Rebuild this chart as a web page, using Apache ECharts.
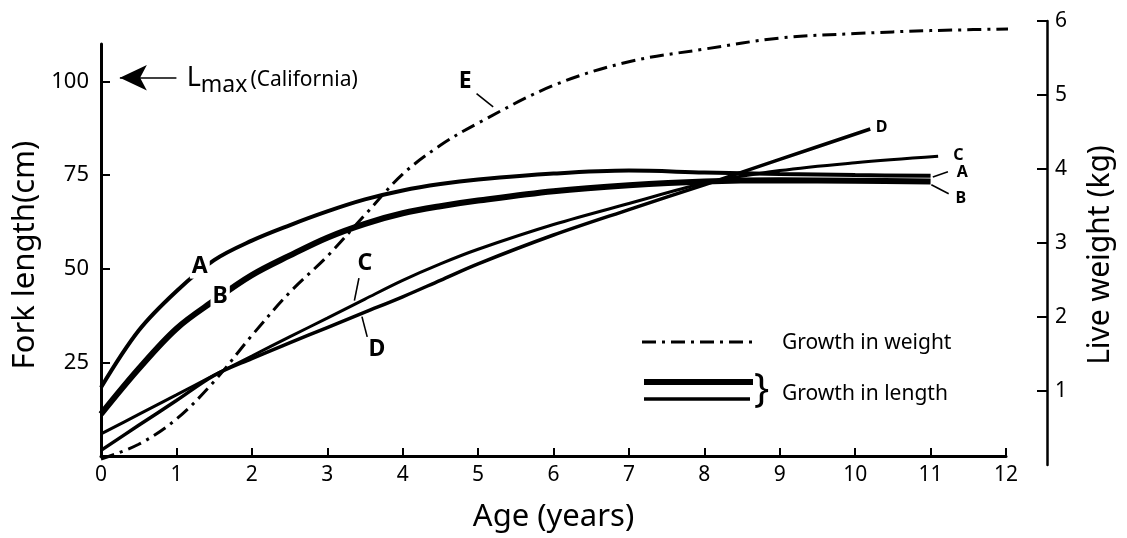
<!DOCTYPE html>
<html><head><meta charset="utf-8">
<script src="https://cdn.jsdelivr.net/npm/echarts@6/dist/echarts.min.js"></script>
<style>html,body{margin:0;padding:0;background:#fff}#c{width:1127px;height:538px}</style>
</head><body><div id="c"></div>
<script>
// Age (years) and fork length (cm)
const agesA = [0, 0.5, 1, 1.5, 2, 2.5, 3, 3.5, 4, 4.5, 5, 6, 7, 8, 9, 10, 11];
const lengthA = [18.3, 33.5, 44, 52.3, 57.5, 61.6, 65.3, 68.5, 70.9, 72.6, 73.8, 75.4, 76.2, 75.7, 75.3, 75.0, 74.8];
const agesB = [0, 0.5, 1, 1.5, 2, 2.5, 3, 3.5, 4, 4.5, 5, 6, 7, 8, 9, 10, 11];
const lengthB = [11.2, 23.3, 34, 41.5, 48.3, 53.5, 58.3, 62, 64.8, 66.7, 68.2, 70.7, 72.3, 73.3, 73.6, 73.5, 73.3];
const agesC = [0, 0.5, 1, 1.5, 2, 2.5, 3, 3.5, 4, 4.5, 5, 6, 7, 8, 9, 10, 11.1];
const lengthC = [5.9, 11.1, 16.3, 21.6, 26.7, 31.8, 36.8, 41.9, 46.9, 51.3, 55.2, 61.8, 67.4, 72.8, 76.2, 78.3, 80];
const agesD = [0, 0.5, 1, 1.5, 2, 2.5, 3, 3.5, 4, 4.5, 5, 6, 7, 8, 9, 10.2];
const lengthD = [1.5, 8.2, 14.8, 21.5, 26, 30.2, 34.3, 38.4, 42.5, 46.9, 51.3, 59, 65.8, 72.4, 79.2, 87.3];
// Live weight (kg)
const agesE = [0, 0.5, 1, 1.5, 2, 2.5, 3, 3.5, 4, 4.5, 5, 6, 7, 8, 9, 10, 11, 12.45];
const weightE = [0.08, 0.28, 0.62, 1.13, 1.75, 2.33, 2.82, 3.38, 3.93, 4.32, 4.62, 5.13, 5.45, 5.62, 5.77, 5.83, 5.87, 5.9];
// ticks
const xTicks = [0,1,2,3,4,5,6,7,8,9,10,11,12];
const lengthTicks = [25, 50, 75, 100];
const weightTicks = [0,1,2,3,4,5,6];
const lmax = 101;

const F = '"Noto Sans", "DejaVu Sans", sans-serif';
const K = '#000';
const zip = (a, b) => a.map((v, i) => [v, b[i]]);

function lbl(text, coord, size, bg) {
  return {
    coord: coord, symbol: 'circle', symbolSize: 1, itemStyle: {color: 'rgba(0,0,0,0)'},
    label: {show: true, position: 'inside', formatter: text, color: K, fontFamily: F,
      fontWeight: 'bold', fontSize: size, backgroundColor: bg ? '#fff' : 'transparent', padding: bg ? [1, 2] : 0}
  };
}
function leader(p, q) { return [{coord: p}, {coord: q}]; }
const mlBase = {symbol: ['none', 'none'], silent: true, animation: false,
  lineStyle: {color: K, width: 1.6, type: 'solid'}, label: {show: false}, emphasis: {disabled: true}};
const mpBase = {silent: true, animation: false, z: 10};
const SM = 0.35;

const chart = echarts.init(document.getElementById('c'));
chart.setOption({
  animation: false,
  backgroundColor: '#fff',
  grid: [
    {left: 101, right: 121, top: 44, bottom: 79},
    {left: 101, right: 121, top: 21, bottom: 73}
  ],
  xAxis: [
    {gridIndex: 0, type: 'value', min: 0, max: 12, interval: 1,
      axisLine: {show: true, onZero: false, lineStyle: {color: K, width: 3}},
      axisTick: {show: true, inside: true, length: 8, lineStyle: {color: K, width: 2}},
      axisLabel: {color: K, fontSize: 21, fontFamily: F, margin: 9},
      splitLine: {show: false},
      name: 'Age (years)', nameLocation: 'middle', nameGap: 46,
      nameTextStyle: {color: K, fontSize: 31, fontFamily: F}},
    {gridIndex: 1, type: 'value', min: 0, max: 12, show: false}
  ],
  yAxis: [
    {gridIndex: 0, type: 'value', min: 0, max: 110, interval: 25,
      axisLine: {show: true, onZero: false, lineStyle: {color: K, width: 3}},
      axisTick: {show: true, inside: true, length: 9, customValues: lengthTicks, lineStyle: {color: K, width: 2}},
      axisLabel: {color: K, fontSize: 22, fontFamily: F, margin: 12, customValues: lengthTicks},
      splitLine: {show: false},
      name: 'Fork length(cm)', nameLocation: 'middle', nameGap: 54, nameRotate: 90,
      nameTextStyle: {color: K, fontSize: 31, fontFamily: F, padding: [0, 10, 0, 0]}},
    {gridIndex: 1, type: 'value', min: 0, max: 6, interval: 1, position: 'right', offset: 41,
      axisLine: {show: true, onZero: false, lineStyle: {color: K, width: 2.5}},
      axisTick: {show: true, inside: true, length: 10, lineStyle: {color: K, width: 2}},
      axisLabel: {color: K, fontSize: 21, fontFamily: F, margin: 8, showMinLabel: false},
      splitLine: {show: false},
      name: 'Live weight (kg)', nameLocation: 'middle', nameGap: 38, nameRotate: 90,
      nameTextStyle: {color: K, fontSize: 30, fontFamily: F, padding: [0, 24, 0, 0]}}
  ],
  series: [
    {name: 'A', type: 'line', xAxisIndex: 0, yAxisIndex: 0, data: zip(agesA, lengthA),
      showSymbol: false, smooth: SM, lineStyle: {color: K, width: 4}, z: 3,
      markPoint: Object.assign({}, mpBase, {data: [
        lbl('A', [1.31, 50.7], 23, true),
        lbl('A', [11.42, 75.8], 16, false),
        {coord: [1.13, lmax], symbol: 'circle', symbolSize: 1, itemStyle: {color: 'rgba(0,0,0,0)'},
          label: {show: true, position: 'right', distance: 0, offset: [0, 3], formatter: '{L|L}{m|max}{c|(California)}',
            rich: {
              L: {fontSize: 27, fontFamily: F, color: K, verticalAlign: 'bottom', padding: [0, 0, 5, 0]},
              m: {fontSize: 23, fontFamily: F, color: K, verticalAlign: 'bottom', padding: [0, 3, 0, 0]},
              c: {fontSize: 21, fontFamily: F, color: K, verticalAlign: 'bottom', padding: [0, 0, 6, 0]}
            }}}
      ]}),
      markLine: Object.assign({}, mlBase, {data: [
        leader([11.03, 74.5], [11.23, 75.9]),
        [{coord: [1.0, lmax], symbol: 'none'}, {coord: [0.25, lmax], symbol: 'arrow', symbolSize: [19, 27]}]
      ]})},
    {name: 'B', type: 'line', xAxisIndex: 0, yAxisIndex: 0, data: zip(agesB, lengthB),
      showSymbol: false, smooth: SM, lineStyle: {color: K, width: 6}, z: 3,
      markPoint: Object.assign({}, mpBase, {data: [
        lbl('B', [1.58, 42.6], 23, true),
        lbl('B', [11.4, 68.9], 16, false)
      ]}),
      markLine: Object.assign({}, mlBase, {data: [leader([11.01, 72.4], [11.24, 70.0])]})},
    {name: 'C', type: 'line', xAxisIndex: 0, yAxisIndex: 0, data: zip(agesC, lengthC),
      showSymbol: false, smooth: SM, lineStyle: {color: K, width: 3}, z: 3,
      markPoint: Object.assign({}, mpBase, {data: [
        lbl('C', [3.5, 51.5], 23, false),
        lbl('C', [11.37, 80.2], 16, false)
      ]}),
      markLine: Object.assign({}, mlBase, {data: [leader([3.42, 47.5], [3.36, 41.5])]})},
    {name: 'D', type: 'line', xAxisIndex: 0, yAxisIndex: 0, data: zip(agesD, lengthD),
      showSymbol: false, smooth: SM, lineStyle: {color: K, width: 3.5}, z: 3,
      markPoint: Object.assign({}, mpBase, {data: [
        lbl('D', [3.66, 28.5], 23, false),
        lbl('D', [10.35, 87.7], 16, false)
      ]}),
      markLine: Object.assign({}, mlBase, {data: [leader([3.53, 31.8], [3.46, 37.2])]})},
    {name: 'E', type: 'line', xAxisIndex: 1, yAxisIndex: 1, data: zip(agesE, weightE), clip: false,
      showSymbol: false, smooth: SM, lineStyle: {color: K, width: 3, type: [14, 6, 3, 6]}, z: 3,
      markPoint: Object.assign({}, mpBase, {data: [lbl('E', [4.83, 5.18], 23, false)]}),
      markLine: Object.assign({}, mlBase, {data: [leader([4.98, 5.02], [5.2, 4.84])]})}
  ],
  graphic: [
    {type: 'line', shape: {x1: 642, y1: 342, x2: 753, y2: 342}, style: {stroke: K, lineWidth: 3, lineDash: [14, 6, 3, 6]}},
    {type: 'line', shape: {x1: 644, y1: 382, x2: 753, y2: 382}, style: {stroke: K, lineWidth: 6}},
    {type: 'line', shape: {x1: 644, y1: 399, x2: 750, y2: 399}, style: {stroke: K, lineWidth: 3.5}},
    {type: 'text', x: 754, y: 391, style: {text: '}', fontSize: 40, fontFamily: F, fontWeight: 'normal', fill: K, align: 'left', verticalAlign: 'middle'}},
    {type: 'text', x: 782, y: 343, style: {text: 'Growth in weight', fontSize: 21, fontFamily: F, fill: K, align: 'left', verticalAlign: 'middle'}},
    {type: 'text', x: 782, y: 394, style: {text: 'Growth in length', fontSize: 21, fontFamily: F, fill: K, align: 'left', verticalAlign: 'middle'}}
  ]
});
</script>
</body></html>
